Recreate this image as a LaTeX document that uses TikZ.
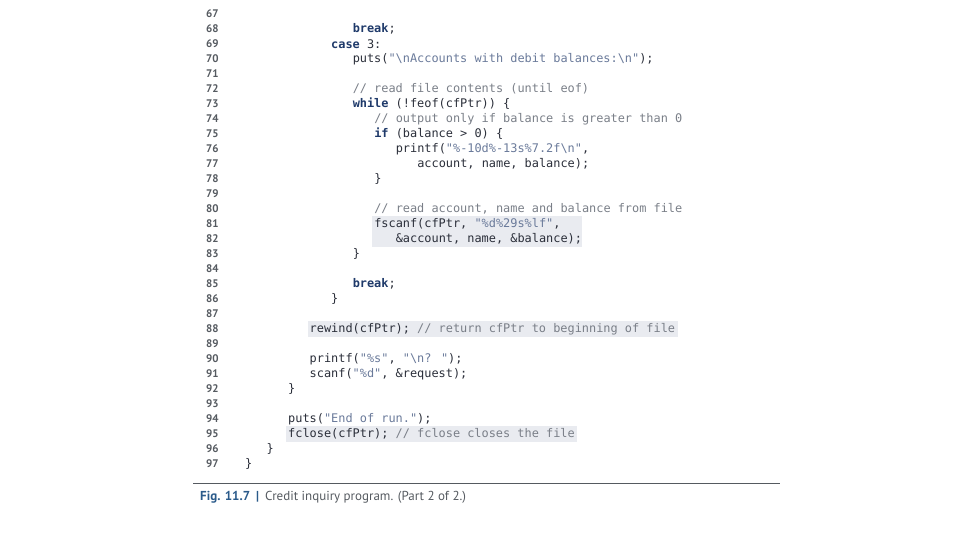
\documentclass[tikz,border=0pt]{standalone}
\usepackage{fontspec}
\setmainfont{PT Sans}
\newfontfamily\codefont{DejaVu Sans Mono}
\definecolor{codetxt}{HTML}{2B2F3A}
\definecolor{kwc}{HTML}{1F3A6A}
\definecolor{strc}{HTML}{6A7A9A}
\definecolor{cmc}{HTML}{7A7F88}
\definecolor{numc}{HTML}{555A60}
\definecolor{hl}{HTML}{E9EBF0}
\definecolor{capblue}{HTML}{2A5A8A}
\newcommand\kwd[1]{\textcolor{kwc}{\bfseries #1}}
\newcommand\strg[1]{\textcolor{strc}{#1}}
\newcommand\cmt[1]{\textcolor{cmc}{#1}}
\newcommand\bsl{\textbackslash{}}
\begin{document}
\begin{tikzpicture}[x=1pt,y=-1pt,
  code/.style={anchor=west,inner sep=0pt,text=codetxt,font=\codefont\fontsize{11.9}{13}\selectfont},
  num/.style={anchor=west,inner sep=0pt,text=numc,font=\bfseries\fontsize{11}{13}\selectfont},
  hlbox/.style={fill=hl,draw=none}]
\useasboundingbox (0,0) rectangle (960,540);
\clip (0,0) rectangle (960,540);
\def\cx#1{245+7.17*#1}
\def\ly#1{29+15.0*(#1-68)}
% highlights
\fill[hl] (372,{\ly{81}-8}) rectangle (582,{\ly{82}+8});
\fill[hl] (308,{\ly{88}-8}) rectangle (678,{\ly{88}+8});
\fill[hl] (286,{\ly{95}-8}) rectangle (577,{\ly{95}+8});
% line numbers
\foreach \n in {67,...,97}{\node[num] (n\n) at (206,{\ly{\n}}) {\n};}
% code lines
\node[code] (c68) at ({\cx{15}},{\ly{68}}) {\kwd{break};};
\node[code] (c69) at ({\cx{12}},{\ly{69}}) {\kwd{case} 3:};
\node[code] (c70) at ({\cx{15}},{\ly{70}}) {puts(\strg{"\bsl nAccounts with debit balances:\bsl n"});};
\node[code] (c72) at ({\cx{15}},{\ly{72}}) {\cmt{// read file contents (until eof)}};
\node[code] (c73) at ({\cx{15}},{\ly{73}}) {\kwd{while} (!feof(cfPtr)) \{};
\node[code] (c74) at ({\cx{18}},{\ly{74}}) {\cmt{// output only if balance is greater than 0}};
\node[code] (c75) at ({\cx{18}},{\ly{75}}) {\kwd{if} (balance > 0) \{};
\node[code] (c76) at ({\cx{21}},{\ly{76}}) {printf(\strg{"\%-10d\%-13s\%7.2f\bsl n"},};
\node[code] (c77) at ({\cx{24}},{\ly{77}}) {account, name, balance);};
\node[code] (c78) at ({\cx{18}},{\ly{78}}) {\}};
\node[code] (c80) at ({\cx{18}},{\ly{80}}) {\cmt{// read account, name and balance from file}};
\node[code] (c81) at ({\cx{18}},{\ly{81}}) {fscanf(cfPtr, \strg{"\%d\%29s\%lf"},};
\node[code] (c82) at ({\cx{21}},{\ly{82}}) {\&account, name, \&balance);};
\node[code] (c83) at ({\cx{15}},{\ly{83}}) {\}};
\node[code] (c85) at ({\cx{15}},{\ly{85}}) {\kwd{break};};
\node[code] (c86) at ({\cx{12}},{\ly{86}}) {\}};
\node[code] (c88) at ({\cx{9}},{\ly{88}}) {rewind(cfPtr); \cmt{// return cfPtr to beginning of file}};
\node[code] (c90) at ({\cx{9}},{\ly{90}}) {printf(\strg{"\%s"}, \strg{"\bsl n? "});};
\node[code] (c91) at ({\cx{9}},{\ly{91}}) {scanf(\strg{"\%d"}, \&request);};
\node[code] (c92) at ({\cx{6}},{\ly{92}}) {\}};
\node[code] (c94) at ({\cx{6}},{\ly{94}}) {puts(\strg{"End of run."});};
\node[code] (c95) at ({\cx{6}},{\ly{95}}) {fclose(cfPtr); \cmt{// fclose closes the file}};
\node[code] (c96) at ({\cx{3}},{\ly{96}}) {\}};
\node[code] (c97) at ({\cx{0}},{\ly{97}}) {\}};
% caption
\draw[line width=0.8pt, color=numc] (193,483) -- (780,483);
\node[anchor=west,inner sep=0pt,font=\fontsize{13}{15}\selectfont] (cap) at (200,497)
  {\textcolor{capblue}{\bfseries Fig. 11.7}\hspace{6pt}\textcolor{capblue}{\bfseries|}\hspace{6pt}\textcolor{numc}{Credit inquiry program. (Part 2 of 2.)}};
\end{tikzpicture}
\end{document}
